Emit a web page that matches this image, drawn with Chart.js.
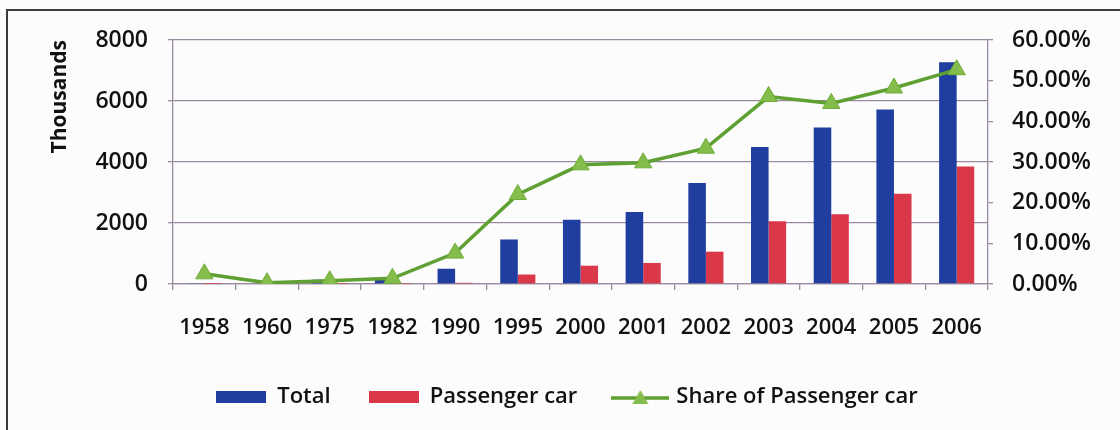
<!DOCTYPE html>
<html>
<head>
<meta charset="utf-8">
<title>Vehicle production</title>
<script src="https://cdn.jsdelivr.net/npm/chart.js@4.4.0/dist/chart.umd.min.js"></script>
<style>
  html, body { margin: 0; padding: 0; background: #fcfcfc; }
  #wrap { position: relative; width: 1120px; height: 430px; overflow: hidden; }
  #frame {
    position: absolute; left: 6px; top: 9px; width: 1200px; height: 500px;
    border-top: 2px solid #3c3c3c; border-left: 2px solid #3c3c3c;
  }
  canvas { position: absolute; left: 0; top: 0; }
</style>
</head>
<body>
<div id="wrap">
  <div id="frame"></div>
  <canvas id="carChart" width="1120" height="430"></canvas>
</div>
<script>
const years = ['1958', '1960', '1975', '1982', '1990', '1995', '2000', '2001', '2002', '2003', '2004', '2005', '2006'];
// thousands of vehicles
const totalOutput = [16, 23, 140, 196, 500, 1460, 2110, 2360, 3310, 4490, 5130, 5720, 7270];
const passengerOutput = [0.5, 0.1, 2, 4, 40, 310, 600, 690, 1060, 2060, 2290, 2960, 3850];
// percent
const passengerShare = [2.5, 0.3, 0.8, 1.4, 7.6, 22.0, 29.3, 29.8, 33.4, 46.1, 44.4, 48.2, 52.7];

const unitTicks = [0, 2000, 4000, 6000, 8000];
const shareTicks = [0, 10, 20, 30, 40, 50, 60];

const FONT = "'Open Sans', 'Noto Sans', sans-serif";
const INK = '#111111';
const GRID = '#9a8a9f';
const BLUE = '#1f3e9f';
const RED = '#da3848';
const GREEN = '#5fa032';
const GREEN_FILL = '#84bd4b';
const TEXT_WEIGHT = '600';
const PAD_LEFT = 14;

// legend swatches drawn on small canvases
function swatch(w, h, paint) {
    const c = document.createElement('canvas');
    c.width = w;
    c.height = h;
    paint(c.getContext('2d'), w, h);
    return c;
}
const barIcon = color => swatch(50, 12, (g, w, h) => {
    g.fillStyle = color;
    g.fillRect(0, 0, w, h);
});
const lineIcon = swatch(58, 16, (g, w, h) => {
    g.strokeStyle = GREEN;
    g.lineWidth = 3.5;
    g.beginPath();
    g.moveTo(0, h / 2 + 1);
    g.lineTo(w, h / 2 + 1);
    g.stroke();
    g.fillStyle = GREEN_FILL;
    g.beginPath();
    g.moveTo(w / 2, 1);
    g.lineTo(w / 2 + 8, h - 1);
    g.lineTo(w / 2 - 8, h - 1);
    g.closePath();
    g.fill();
});
const legendIcons = [barIcon(BLUE), barIcon(RED), lineIcon];

const ctx = document.getElementById('carChart').getContext('2d');
const carChart = new Chart(ctx, {
    data: {
        labels: years,
        datasets: [{
            type: 'bar',
            label: 'Total',
            data: totalOutput,
            backgroundColor: BLUE,
            yAxisID: 'y',
            order: 1
        }, {
            type: 'bar',
            label: 'Passenger car',
            data: passengerOutput,
            backgroundColor: RED,
            yAxisID: 'y',
            order: 1
        }, {
            type: 'line',
            label: 'Share of Passenger car',
            data: passengerShare,
            yAxisID: 'y1',
            borderColor: GREEN,
            borderWidth: 3.5,
            tension: 0,
            pointStyle: 'triangle',
            pointRadius: 10,
            pointBackgroundColor: GREEN_FILL,
            pointBorderColor: '#6dad3a',
            pointBorderWidth: 1,
            order: 0
        }]
    },
    options: {
        responsive: false,
        animation: false,
        layout: { padding: { top: 40, left: PAD_LEFT, right: 0, bottom: 12 } },
        datasets: {
            bar: { categoryPercentage: 0.56, barPercentage: 1 }
        },
        plugins: {
            tooltip: { enabled: false },
            legend: {
                position: 'bottom',
                labels: {
                    usePointStyle: true,
                    pointStyleWidth: 50,
                    boxHeight: 12,
                    padding: 38,
                    color: INK,
                    font: { family: FONT, size: 22, weight: TEXT_WEIGHT },
                    sort: (a, b) => a.datasetIndex - b.datasetIndex,
                    generateLabels(chart) {
                        const items = Chart.defaults.plugins.legend.labels.generateLabels(chart);
                        items.forEach(it => { it.pointStyle = legendIcons[it.datasetIndex]; });
                        return items;
                    }
                }
            }
        },
        scales: {
            x: {
                grid: { offset: true, drawOnChartArea: false, tickLength: 6, color: GRID, lineWidth: 1.3 },
                border: { color: GRID, width: 1.3 },
                ticks: { color: INK, font: { family: FONT, size: 22, weight: TEXT_WEIGHT }, padding: 25, maxRotation: 0, autoSkip: false },
                afterFit(scale) { scale.height = 64; }
            },
            y: {
                position: 'left',
                min: 0,
                max: 8000,
                afterBuildTicks(scale) { scale.ticks = unitTicks.map(v => ({ value: v })); },
                grid: { color: GRID, lineWidth: 1.3, tickLength: 5 },
                border: { color: GRID, width: 1.3 },
                ticks: {
                    color: INK,
                    font: { family: FONT, size: 23, weight: TEXT_WEIGHT },
                    padding: 20,
                    callback: v => String(v)
                },
                title: {
                    display: true,
                    text: 'Thousands',
                    align: 'end',
                    color: INK,
                    font: { family: FONT, size: 21, weight: 'bold' },
                    padding: { top: 47 - PAD_LEFT, bottom: 0 }
                },
                afterFit(scale) { scale.width = 173 - PAD_LEFT; }
            },
            y1: {
                position: 'right',
                min: 0,
                max: 60,
                afterBuildTicks(scale) { scale.ticks = shareTicks.map(v => ({ value: v })); },
                grid: { drawOnChartArea: false, color: GRID, lineWidth: 1.3, tickLength: 5 },
                border: { color: GRID, width: 1.3 },
                ticks: {
                    color: INK,
                    font: { family: FONT, size: 23, weight: TEXT_WEIGHT },
                    padding: 19,
                    callback: v => v.toFixed(2) + '%'
                },
                afterFit(scale) { scale.width = 132; }
            }
        }
    }
});
</script>
</body>
</html>
